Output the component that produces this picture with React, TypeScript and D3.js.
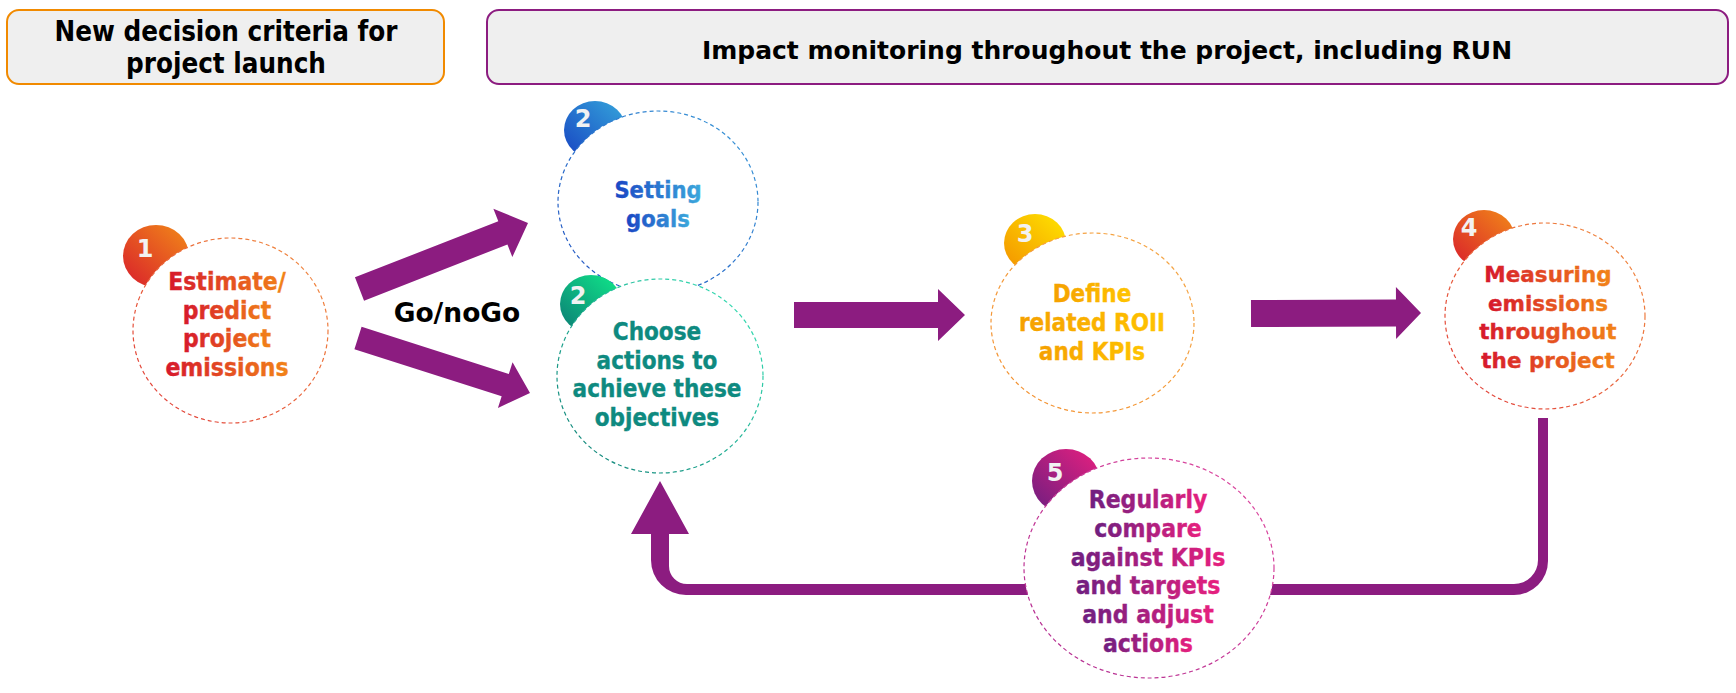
import React from 'react';
import * as d3 from 'd3';

// ---------- content ----------
const HEADER_LINES: string[][] = [
  ['New decision criteria for', 'project launch'],
  ['Impact monitoring throughout the project, including RUN'],
];
const STEP_NUMBERS = ['1', '2', '2', '3', '4', '5'];
const STEP_LABELS: string[][] = [
  ['Estimate/', 'predict', 'project', 'emissions'],
  ['Setting', 'goals'],
  ['Choose', 'actions to', 'achieve these', 'objectives'],
  ['Define', 'related ROII', 'and KPIs'],
  ['Measuring', 'emissions', 'throughout', 'the project'],
  ['Regularly', 'compare', 'against KPIs', 'and targets', 'and adjust', 'actions'],
];
const GATE_LABEL = 'Go/noGo';

// ---------- palette ----------
const PURPLE = '#8C1C80';
const BADGE_GRADIENTS = [
  { id: 'gOR', from: '#D81E2C', to: '#F28A18' },
  { id: 'gBL', from: '#1743C2', to: '#35A6DB' },
  { id: 'gTL', from: '#0C7A74', to: '#10EA8A' },
  { id: 'gYE', from: '#F39000', to: '#FFE600' },
  { id: 'gPP', from: '#6C1E80', to: '#E8207F' },
  { id: 'sOR', from: '#E03A3A', to: '#F29040' },
  { id: 'sBL', from: '#1F4FC0', to: '#3A9AD8' },
  { id: 'sTL', from: '#0E7C74', to: '#3AE6B8' },
  { id: 'sYE', from: '#F39030', to: '#F5A848' },
  { id: 'sPP', from: '#B02C90', to: '#E04AA0' },
];
const TEXT_GRADIENTS = [
  { id: 'tOR', from: '#D6182C', to: '#F28418' },
  { id: 'tBL', from: '#1A46C4', to: '#3CA8DC' },
  { id: 'tYE', from: '#F5A000', to: '#FFC400' },
  { id: 'tPP', from: '#6E1F80', to: '#E8207E' },
];

// ---------- layout ----------
const W = 1736;
const H = 693;
const COND = "'DejaVu Sans Condensed', 'DejaVu Sans', sans-serif";
const WIDE = "'DejaVu Sans', Verdana, sans-serif";

const HEADER_GEOM = [
  { x: 7, y: 10, w: 437, h: 74, stroke: '#F18A00', tx: 226, ty: [41, 73], font: COND, size: 27.5, stretch: 'condensed' },
  { x: 487, y: 10, w: 1241, h: 74, stroke: PURPLE, tx: 1107, ty: [59], font: WIDE, size: 25, stretch: 'normal' },
];

const NODE_GEOM = [
  { cx: 230.5, cy: 330.5, rx: 97.5, ry: 92.5, bx: 156, by: 256, brx: 33, bry: 31, nx: 145, ny: 257,
    tx: 227, ty: 290, lh: 28.7, font: COND, size: 24.5, stretch: 'condensed', text: 'url(#tOR)', badge: 'url(#gOR)', stroke: 'url(#sOR)' },
  { cx: 658, cy: 202, rx: 100, ry: 91, bx: 595, by: 130, brx: 31, bry: 29, nx: 583, ny: 127,
    tx: 658, ty: 198, lh: 29, font: COND, size: 23.5, stretch: 'condensed', text: 'url(#tBL)', badge: 'url(#gBL)', stroke: 'url(#sBL)' },
  { cx: 660, cy: 376, rx: 103, ry: 97, bx: 591, by: 304, brx: 31, bry: 29, nx: 578, ny: 304,
    tx: 657, ty: 340, lh: 28.7, font: COND, size: 24, stretch: 'condensed', text: '#0E8A80', badge: 'url(#gTL)', stroke: 'url(#sTL)' },
  { cx: 1092.5, cy: 323, rx: 101.5, ry: 90, bx: 1035, by: 243, brx: 31, bry: 29, nx: 1025, ny: 242,
    tx: 1092, ty: 302, lh: 29, font: COND, size: 24, stretch: 'condensed', text: 'url(#tYE)', badge: 'url(#gYE)', stroke: 'url(#sYE)' },
  { cx: 1545, cy: 316, rx: 100, ry: 93, bx: 1484, by: 239, brx: 31, bry: 29, nx: 1469, ny: 236,
    tx: 1548, ty: 282, lh: 28.7, font: WIDE, size: 21.5, stretch: 'normal', text: 'url(#tOR)', badge: 'url(#gOR)', stroke: 'url(#sOR)' },
  { cx: 1149, cy: 568, rx: 125, ry: 110, bx: 1066, by: 481, brx: 34, bry: 32, nx: 1055, ny: 481,
    tx: 1148, ty: 508, lh: 28.8, font: COND, size: 24.5, stretch: 'condensed', text: 'url(#tPP)', badge: 'url(#gPP)', stroke: 'url(#sPP)' },
];

const ARROWS = [
  { tail: [359.5, 289], tip: [528, 223], shaft: 25, head: 52, len: 27 },
  { tail: [358, 338], tip: [530, 393], shaft: 23.5, head: 48, len: 26 },
  { tail: [794, 315], tip: [965, 315], shaft: 26, head: 52, len: 27 },
  { tail: [1251, 313.5], tip: [1421, 313], shaft: 27, head: 52, len: 25 },
];

function arrowPath(a: typeof ARROWS[number]) {
  const [tx, ty] = a.tail;
  const [px, py] = a.tip;
  const d = Math.hypot(px - tx, py - ty);
  const ux = (px - tx) / d, uy = (py - ty) / d;
  const nx = -uy, ny = ux;
  const bx = px - ux * a.len, by = py - uy * a.len;
  const p = d3.path();
  p.moveTo(tx + nx * a.shaft / 2, ty + ny * a.shaft / 2);
  p.lineTo(bx + nx * a.shaft / 2, by + ny * a.shaft / 2);
  p.lineTo(bx + nx * a.head / 2, by + ny * a.head / 2);
  p.lineTo(px, py);
  p.lineTo(bx - nx * a.head / 2, by - ny * a.head / 2);
  p.lineTo(bx - nx * a.shaft / 2, by - ny * a.shaft / 2);
  p.lineTo(tx - nx * a.shaft / 2, ty - ny * a.shaft / 2);
  p.closePath();
  return p.toString();
}

function returnPath() {
  const p = d3.path();
  p.moveTo(1538, 418);
  p.lineTo(1548, 418);
  p.lineTo(1548, 560);
  p.arcTo(1548, 595, 1514, 595, 34);
  p.lineTo(686, 595);
  p.arcTo(651, 595, 651, 560, 35);
  p.lineTo(651, 534);
  p.lineTo(631, 534);
  p.lineTo(660, 481);
  p.lineTo(689, 534);
  p.lineTo(669, 534);
  p.lineTo(669, 566);
  p.arcTo(669, 584, 687, 584, 18);
  p.lineTo(1514, 584);
  p.arcTo(1538, 584, 1538, 560, 24);
  p.closePath();
  return p.toString();
}

export default function App() {
  return (
    <svg width={W} height={H} viewBox={`0 0 ${W} ${H}`}
      style={{ position: 'absolute', left: 0, top: 0, background: '#fff' }}>
      <defs>
        {BADGE_GRADIENTS.map((g) => (
          <linearGradient key={g.id} id={g.id} x1="0" y1="1" x2="1" y2="0">
            <stop offset="0%" stopColor={g.from} />
            <stop offset="100%" stopColor={g.to} />
          </linearGradient>
        ))}
        {TEXT_GRADIENTS.map((g) => (
          <linearGradient key={g.id} id={g.id} x1="0" y1="0" x2="1" y2="0">
            <stop offset="0%" stopColor={g.from} />
            <stop offset="100%" stopColor={g.to} />
          </linearGradient>
        ))}
      </defs>
      <rect x={0} y={0} width={W} height={H} fill="#fff" />

      {/* headers */}
      {HEADER_GEOM.map((h, i) => (
        <g key={'h' + i}>
          <rect x={h.x} y={h.y} width={h.w} height={h.h} rx={12} ry={12}
            fill="#EFEFEF" stroke={h.stroke} strokeWidth={2} />
          <text textAnchor="middle" fontFamily={h.font} fontWeight="bold" fontSize={h.size}
            style={{ fontStretch: h.stretch }} fill="#000">
            {HEADER_LINES[i].map((l, j) => (
              <tspan key={j} x={h.tx} y={h.ty[j]}>{l}</tspan>
            ))}
          </text>
        </g>
      ))}

      {/* arrows */}
      {ARROWS.map((a, i) => (
        <path key={'a' + i} d={arrowPath(a)} fill={PURPLE} />
      ))}
      <path d={returnPath()} fill={PURPLE} />

      <text x={457} y={322} textAnchor="middle" fontFamily={WIDE} fontWeight="bold" fontSize={26.5} fill="#000">
        {GATE_LABEL}
      </text>

      {/* steps */}
      {NODE_GEOM.map((n, i) => (
        <g key={'n' + i}>
          <ellipse cx={n.bx} cy={n.by} rx={n.brx} ry={n.bry} fill={n.badge} />
          <text x={n.nx} y={n.ny} textAnchor="middle" fontFamily={WIDE} fontWeight="bold"
            fontSize={24} fill="#F2F2F2">{STEP_NUMBERS[i]}</text>
          <ellipse cx={n.cx} cy={n.cy} rx={n.rx} ry={n.ry} fill="#fff"
            stroke={n.stroke} strokeWidth={1.2} strokeDasharray="4 3" />
          {STEP_LABELS[i].map((l, j) => (
            <text key={j} x={n.tx} y={n.ty + j * n.lh} textAnchor="middle" fontFamily={n.font}
              fontWeight="bold" fontSize={n.size} style={{ fontStretch: n.stretch }}
              fill={n.text} stroke={n.text} strokeWidth={0.35}>
              {l}
            </text>
          ))}
        </g>
      ))}
    </svg>
  );
}
